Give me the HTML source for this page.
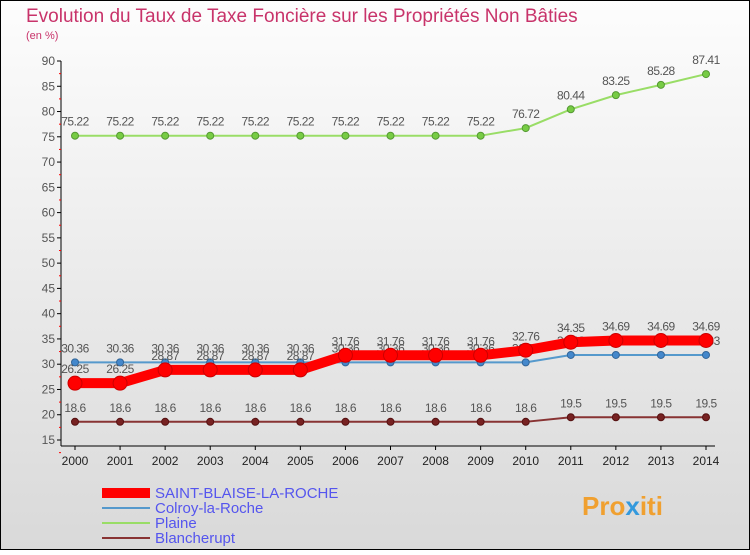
<!DOCTYPE html>
<html><head><meta charset="utf-8"><style>
html,body{margin:0;padding:0}
body{width:750px;height:550px;overflow:hidden;font-family:"Liberation Sans",sans-serif}
</style></head><body>
<svg id="chart" width="750" height="550" xmlns="http://www.w3.org/2000/svg">
<defs><linearGradient id="bg" x1="0" y1="0" x2="0" y2="1"><stop offset="0" stop-color="#fdfdfd"/><stop offset="1" stop-color="#d9d9d9"/></linearGradient></defs>
<rect x="0.5" y="0.5" width="749" height="549" fill="url(#bg)" stroke="#000"/>
<text x="26" y="22" font-size="19" fill="#c8336a">Evolution du Taux de Taxe Foncière sur les Propriétés Non Bâties</text>
<text x="26" y="39" font-size="11" fill="#c8336a">(en %)</text>
<g id="axes"></g><g id="series"></g>
<g>
<line x1="102" y1="493" x2="150" y2="493" stroke="#f00" stroke-width="10"/>
<text x="155" y="498" font-size="15" fill="#5555ee">SAINT-BLAISE-LA-ROCHE</text>
<line x1="102" y1="508" x2="150" y2="508" stroke="#5599cc" stroke-width="2"/>
<text x="155" y="513" font-size="15" fill="#5555ee">Colroy-la-Roche</text>
<line x1="102" y1="523" x2="150" y2="523" stroke="#99dd66" stroke-width="2"/>
<text x="155" y="528" font-size="15" fill="#5555ee">Plaine</text>
<line x1="102" y1="538" x2="150" y2="538" stroke="#883333" stroke-width="2"/>
<text x="155" y="543" font-size="15" fill="#5555ee">Blancherupt</text>
</g>
<text x="582" y="515" font-size="26" font-weight="bold" fill="#f0a030">Pro<tspan fill="#3399dd">x</tspan>iti</text>
</svg>
<script>
const years=[2000,2001,2002,2003,2004,2005,2006,2007,2008,2009,2010,2011,2012,2013,2014];
const yTicks=[15,20,25,30,35,40,45,50,55,60,65,70,75,80,85,90];
const plaine=[75.22,75.22,75.22,75.22,75.22,75.22,75.22,75.22,75.22,75.22,76.72,80.44,83.25,85.28,87.41];
const colroy=[30.36,30.36,30.36,30.36,30.36,30.36,30.36,30.36,30.36,30.36,30.36,31.83,31.83,31.83,31.83];
const saintBlaise=[26.25,26.25,28.87,28.87,28.87,28.87,31.76,31.76,31.76,31.76,32.76,34.35,34.69,34.69,34.69];
const blancherupt=[18.6,18.6,18.6,18.6,18.6,18.6,18.6,18.6,18.6,18.6,18.6,19.5,19.5,19.5,19.5];
const NS="http://www.w3.org/2000/svg";
const xS=y=>75+(y-2000)*(706-75)/14;
const yS=v=>440-(v-15)*(440-61)/75;
function mk(tag,attrs,parent,text){const e=document.createElementNS(NS,tag);for(const k in attrs)e.setAttribute(k,attrs[k]);if(text!==undefined)e.textContent=text;parent.appendChild(e);return e;}
const ax=document.getElementById('axes');
let a=mk('line',{x1:61,y1:61,x2:61,y2:446,stroke:'#000'},ax);

a=mk('line',{x1:61,y1:446,x2:715,y2:446,stroke:'#000'},ax);

yTicks.forEach(v=>{const y=yS(v);
 mk('line',{x1:57,y1:y,x2:61,y2:y,stroke:'#000'},ax);
 mk('line',{x1:59,y1:y+2.5*(440-61)/75,x2:61,y2:y+2.5*(440-61)/75,stroke:'#f00'},ax);
 const t=mk('text',{x:55,y:y+4,'font-size':12,fill:'#555','text-anchor':'end'},ax,v);
 });
years.forEach(yr=>{const x=xS(yr);
 mk('line',{x1:x,y1:446,x2:x,y2:450,stroke:'#000'},ax);
 const t=mk('text',{x:x,y:465,'font-size':12,fill:'#222','text-anchor':'middle'},ax,yr);
 });
const sg=document.getElementById('series');
function series(vals,name,color,w,r,dot,dotStroke){
 const g=mk('g',{},sg);
 const p=mk('polyline',{points:vals.map((v,i)=>xS(years[i])+','+yS(v)).join(' '),fill:'none',stroke:color,'stroke-width':w,'stroke-linejoin':'round'},g);
 
 vals.forEach((v,i)=>{const c=mk('circle',{cx:xS(years[i]),cy:yS(v),r:r,fill:dot,stroke:dotStroke,'stroke-width':1},g);
  
  const t=mk('text',{x:xS(years[i]),y:yS(v)-10,'font-size':12,fill:'#555','text-anchor':'middle','letter-spacing':'-0.5'},g,String(v));
  });
}
series(plaine,'plaine','#99dd66',2,3.5,'#77cc44','#559933');
series(colroy,'colroy','#5599cc',2,3.5,'#4488cc','#336699');
series(saintBlaise,'saint-blaise','#f00',10,7,'#f00','#c00');
series(blancherupt,'blancherupt','#883333',2,3.5,'#772222','#551111');
</script>
</body></html>
